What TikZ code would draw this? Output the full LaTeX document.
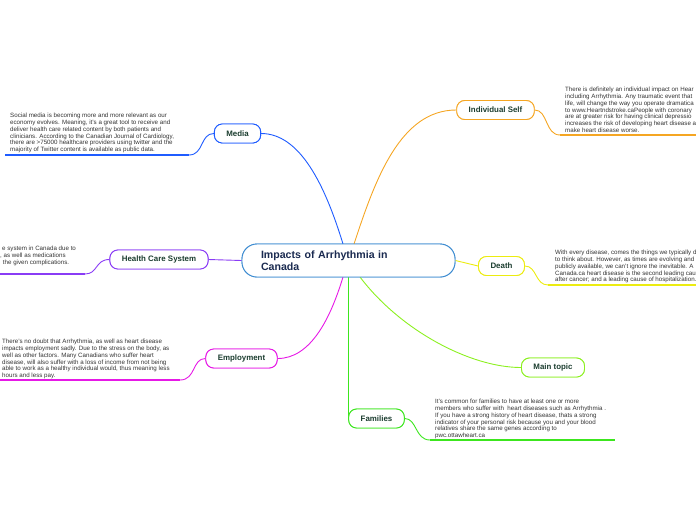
\documentclass[tikz,border=0pt]{standalone}
\usepackage{fontspec}
\setmainfont{Liberation Sans}
\definecolor{cblue}{HTML}{1F5CFF}
\definecolor{cpurple}{HTML}{8A3CF5}
\definecolor{cmag}{HTML}{E619E6}
\definecolor{corange}{HTML}{F5A623}
\definecolor{cyellow}{HTML}{ECEC10}
\definecolor{clime}{HTML}{8CF020}
\definecolor{cgreen}{HTML}{3CE61E}
\definecolor{ccentral}{HTML}{3A8AD0}
\definecolor{ctxt}{HTML}{1B3D2F}
\definecolor{cnavy}{HTML}{1A2A50}
\definecolor{cbody}{HTML}{333333}
\tikzset{
  topic/.style={draw=#1, line width=0.9pt, rounded corners=8pt, fill=white, minimum height=19pt, inner xsep=12pt, font=\fontsize{7.9}{9}\selectfont\bfseries, text=ctxt},
  central/.style={draw=ccentral, line width=0.9pt, rounded corners=15pt, fill=white, minimum width=213pt, minimum height=33pt, inner xsep=19pt, font=\fontsize{10.6}{12}\selectfont\bfseries, text=cnavy, align=left, text width=175pt},
  conn/.style={draw=#1, line width=0.9pt},
  under/.style={draw=#1, line width=1.6pt},
  body/.style={anchor=north west, inner sep=0pt, align=left, font=\fontsize{6.2}{6.8}\selectfont, text=cbody}
}
\begin{document}
\begin{tikzpicture}[x=1pt,y=-1pt]
\useasboundingbox (0,0) rectangle (696,520);
\clip (0,0) rectangle (696,520);
% central
\node[central] (main) at (348.5,260.5) {Impacts of Arrhythmia in\\Canada};
% topics
\node[topic=cblue] (media) at (237.5,133.5) {Media};
\node[topic=cpurple] (health) at (159,259.5) {Health Care System};
\node[topic=cmag] (employ) at (241.5,358.5) {Employment};
\node[topic=corange] (indiv) at (495.5,110) {Individual Self};
\node[topic=cyellow] (death) at (501.5,266) {Death};
\node[topic=clime] (maintopic) at (553,367.5) {Main topic};
\node[topic=cgreen] (families) at (376.5,418.5) {Families};
% connection points on central
\coordinate (cm) at (343,244);
\coordinate (co) at (354,244);
\coordinate (cb1) at (343,277);
\coordinate (cb2) at (348,277);
\coordinate (cb3) at (360,277);
\coordinate (cfam) at (348,418.5);
% connectors
\draw[conn=cblue] (cm) .. controls (325,185) and (300,133.5) .. (media.east);
\draw[conn=corange] (co) .. controls (375,180) and (400,110) .. (indiv.west);
\draw[conn=cpurple] (main.west) -- (health.east);
\draw[conn=cmag] (cb1) .. controls (330,320) and (310,358.5) .. (employ.east);
\draw[conn=cyellow] (main.east) -- (death.west);
\draw[conn=clime] (cb3) .. controls (400,330) and (470,367.5) .. (maintopic.west);
\draw[conn=cgreen] (cb2) -- (cfam);
% leaf underline coordinates
\coordinate (mu1) at (189,155);  \coordinate (mu2) at (5,155);
\coordinate (hu1) at (85,274);   \coordinate (hu2) at (0,274);
\coordinate (eu1) at (180,380);  \coordinate (eu2) at (0,380);
\coordinate (iu1) at (560,135);  \coordinate (iu2) at (696,135);
\coordinate (du1) at (548,285);  \coordinate (du2) at (696,285);
\coordinate (fu1) at (430,440);  \coordinate (fu2) at (615,440);
\draw[conn=cblue] (media.west) .. controls (200,133.5) and (204,155) .. (mu1);
\draw[under=cblue] (mu1) -- (mu2);
\draw[conn=cpurple] (health.west) .. controls (95,259.5) and (98,274) .. (hu1);
\draw[under=cpurple] (hu1) -- (hu2);
\draw[conn=cmag] (employ.west) .. controls (192,358.5) and (196,380) .. (eu1);
\draw[under=cmag] (eu1) -- (eu2);
\draw[conn=corange] (indiv.east) .. controls (548,110) and (545,135) .. (iu1);
\draw[under=corange] (iu1) -- (iu2);
\draw[conn=cyellow] (death.east) .. controls (537,266) and (535,285) .. (du1);
\draw[under=cyellow] (du1) -- (du2);
\draw[conn=cgreen] (families.east) .. controls (417,418.5) and (415,440) .. (fu1);
\draw[under=cgreen] (fu1) -- (fu2);
% texts
\node[body] (mediatext) at (10,113) {Social media is becoming more and more relevant as our\\economy evolves. Meaning, it's a great tool to receive and\\deliver health care related content by both patients and\\clinicians. According to the Canadian Journal of Cardiology,\\there are >75000 healthcare providers using twitter and the\\majority of Twitter content is available as public data.};
\node[body] (healthtext) at (0,246) {\hspace*{2pt}e system in Canada due to\\, as well as medications\\\hspace*{1pt} the given complications.};
\node[body] (employtext) at (2,339) {There's no doubt that Arrhythmia, as well as heart disease\\impacts employment sadly. Due to the stress on the body, as\\well as other factors. Many Canadians who suffer heart\\disease, will also suffer with a loss of income from not being\\able to work as a healthy individual would, thus meaning less\\hours and less pay.};
\node[body] (indivtext) at (565,87) {There is definitely an individual impact on Hear\\including Arrhythmia. Any traumatic event that\\life, will change the way you operate dramatica\\to www.Heartndstroke.caPeople with coronary \\are at greater risk for having clinical depressio\\increases the risk of developing heart disease a\\make heart disease worse.};
\node[body] (deathtext) at (555,250) {With every disease, comes the things we typically d\\to think about. However, as times are evolving and\\publicly available, we can't ignore the inevitable. A\\Canada.ca heart disease is the second leading caus\\after cancer; and a leading cause of hospitalization.};
\node[body] (famtext) at (435,399) {It's common for families to have at least one or more\\members who suffer with \ heart diseases such as Arrhythmia .\\If you have a strong history of heart disease, thats a strong\\indicator of your personal risk because you and your blood\\relatives share the same genes according to\\pwc.ottawheart.ca};
% redraw nodes on top
\node[central] at (348.5,260.5) {Impacts of Arrhythmia in\\Canada};
\node[topic=cblue] at (237.5,133.5) {Media};
\node[topic=cpurple] at (159,259.5) {Health Care System};
\node[topic=cmag] at (241.5,358.5) {Employment};
\node[topic=corange] at (495.5,110) {Individual Self};
\node[topic=cyellow] at (501.5,266) {Death};
\node[topic=clime] at (553,367.5) {Main topic};
\node[topic=cgreen] at (376.5,418.5) {Families};
\end{tikzpicture}
\end{document}
